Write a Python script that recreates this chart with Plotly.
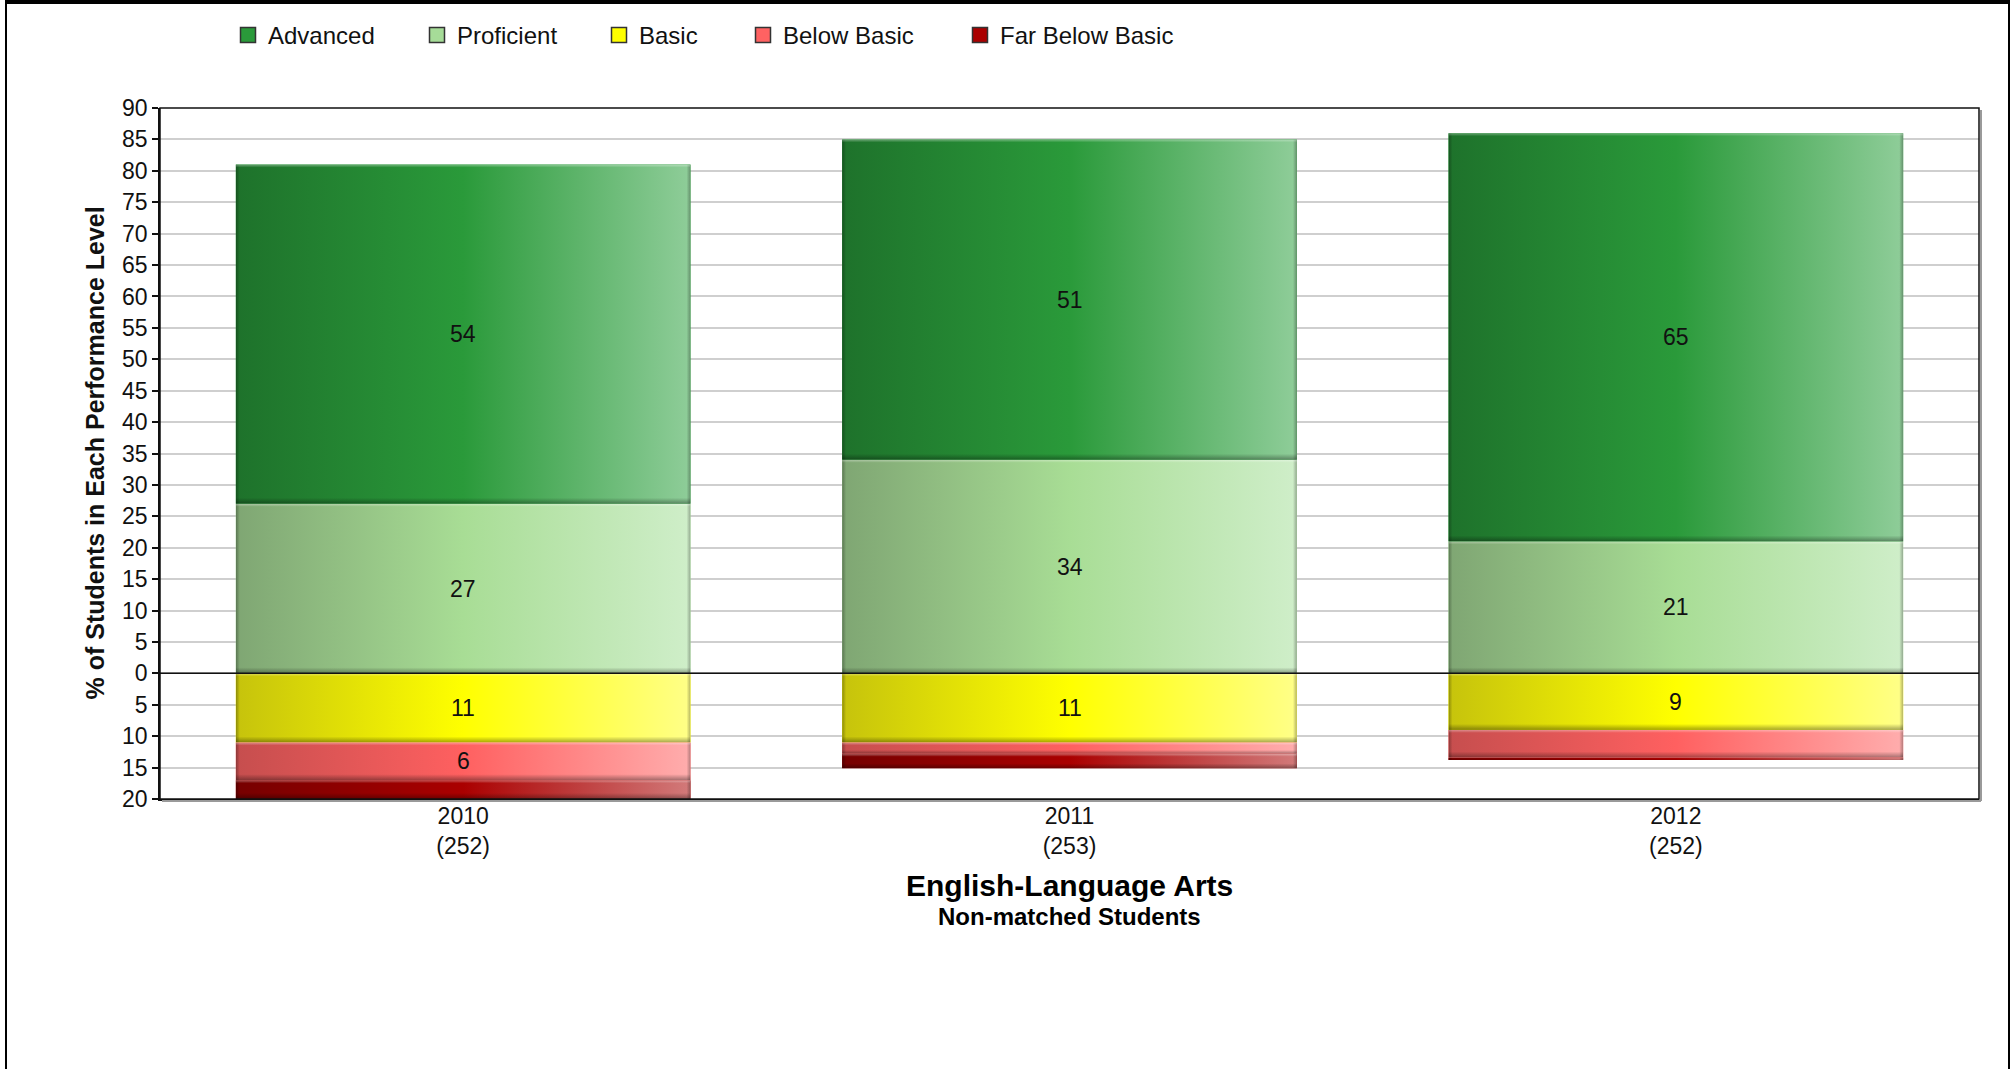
import base64
import plotly.graph_objects as go

# ---- data -------------------------------------------------------------
YEARS = ["2010", "2011", "2012"]
STUDENT_COUNTS = ["252", "253", "252"]
LEVELS = ["Advanced", "Proficient", "Basic", "Below Basic", "Far Below Basic"]
ADVANCED = [54, 51, 65]
PROFICIENT = [27, 34, 21]
BASIC = [11, 11, 9]
BELOW_BASIC = [6, 1.8, 4.4]
FAR_BELOW_BASIC = [3, 2.3, 0.4]
Y_TICK_VALUES = list(range(-20, 91, 5))
Y_TICK_TEXT = [str(abs(v)) for v in Y_TICK_VALUES]
TITLE = "English-Language Arts"
SUBTITLE = "Non-matched Students"
Y_TITLE = "% of Students in Each Performance Level"

# ---- styling ----------------------------------------------------------
FONT = "Liberation Sans, Arial, sans-serif"
W, H = 2015, 1069
M_L, M_R, M_T, M_B = 160, 36, 108, 270
Y_RANGE = [-20, 90]
BAR_W = 0.75

# left / middle / right colours of each level's horizontal shading
SHADES = {
    "Advanced": ("#1e722b", "#2a9a3a", "#8fcd99"),
    "Proficient": ("#7fa673", "#a8dd95", "#cfeec9"),
    "Basic": ("#c6c30c", "#ffff00", "#ffff88"),
    "Below Basic": ("#c64e4e", "#ff6060", "#ffadad"),
    "Far Below Basic": ("#760000", "#aa0000", "#d27a7a"),
}
LEGEND_COLORS = {
    "Advanced": "#2a9a3a",
    "Proficient": "#a6dc98",
    "Basic": "#ffff00",
    "Below Basic": "#ff6262",
    "Far Below Basic": "#aa0000",
}
# horizontal pixel position of each legend swatch centre
LEGEND_X = [248, 437, 619, 763, 980]
LEGEND_Y = 35

plot_w = W - M_L - M_R
plot_h = H - M_T - M_B
px_per_x = plot_w / 3.0
px_per_y = plot_h / (Y_RANGE[1] - Y_RANGE[0])


def xp(px):
    return (px - M_L) / plot_w


def yp(py):
    return (H - M_B - py) / plot_h


def shaded_bar_svg(w, h, shade):
    left, mid, right = shade
    side = min(4.0, w / 4)
    bot = min(6.0, h / 3)
    top = min(3.0, h / 4)
    svg = (
        f"<svg xmlns='http://www.w3.org/2000/svg' width='{w:.2f}' height='{h:.2f}' "
        f"viewBox='0 0 {w:.2f} {h:.2f}' preserveAspectRatio='none'>"
        "<defs>"
        "<linearGradient id='g' x1='0' y1='0' x2='1' y2='0'>"
        f"<stop offset='0' stop-color='{left}'/>"
        f"<stop offset='0.5' stop-color='{mid}'/>"
        f"<stop offset='1' stop-color='{right}'/></linearGradient>"
        "<linearGradient id='l' x1='0' y1='0' x2='1' y2='0'>"
        "<stop offset='0' stop-color='#000' stop-opacity='0.3'/>"
        "<stop offset='1' stop-color='#000' stop-opacity='0'/></linearGradient>"
        "<linearGradient id='r' x1='0' y1='0' x2='1' y2='0'>"
        "<stop offset='0' stop-color='#000' stop-opacity='0'/>"
        "<stop offset='1' stop-color='#000' stop-opacity='0.3'/></linearGradient>"
        "<linearGradient id='b' x1='0' y1='0' x2='0' y2='1'>"
        "<stop offset='0' stop-color='#000' stop-opacity='0'/>"
        "<stop offset='1' stop-color='#000' stop-opacity='0.35'/></linearGradient>"
        "<linearGradient id='t' x1='0' y1='0' x2='0' y2='1'>"
        "<stop offset='0' stop-color='#fff' stop-opacity='0.35'/>"
        "<stop offset='1' stop-color='#fff' stop-opacity='0'/></linearGradient>"
        "</defs>"
        f"<rect width='{w:.2f}' height='{h:.2f}' fill='url(#g)'/>"
        f"<rect width='{side:.2f}' height='{h:.2f}' fill='url(#l)'/>"
        f"<rect x='{w - side:.2f}' width='{side:.2f}' height='{h:.2f}' fill='url(#r)'/>"
        f"<rect y='{h - bot:.2f}' width='{w:.2f}' height='{bot:.2f}' fill='url(#b)'/>"
        f"<rect width='{w:.2f}' height='{top:.2f}' fill='url(#t)'/>"
        "</svg>"
    )
    return "data:image/svg+xml;base64," + base64.b64encode(svg.encode()).decode()


# stacking order: positives upward from zero, negatives downward from zero
series = [
    ("Proficient", PROFICIENT, 1),
    ("Advanced", ADVANCED, 1),
    ("Basic", BASIC, -1),
    ("Below Basic", BELOW_BASIC, -1),
    ("Far Below Basic", FAR_BELOW_BASIC, -1),
]

x_pos = list(range(len(YEARS)))
tick_text = [f"{y}<br>({n})" for y, n in zip(YEARS, STUDENT_COUNTS)]

fig = go.Figure()
images, annotations, shapes = [], [], []
pos_stack = [0.0] * len(YEARS)
neg_stack = [0.0] * len(YEARS)

for name, vals, sign in series:
    fig.add_trace(go.Bar(
        x=x_pos, y=[sign * v for v in vals], name=name, width=BAR_W,
        marker=dict(color=LEGEND_COLORS[name], line=dict(width=0)),
        showlegend=False, hoverinfo="name+y",
    ))
    for j, v in enumerate(vals):
        if sign > 0:
            lo, hi = pos_stack[j], pos_stack[j] + v
            pos_stack[j] = hi
        else:
            hi, lo = neg_stack[j], neg_stack[j] - v
            neg_stack[j] = lo
        images.append(dict(
            source=shaded_bar_svg(BAR_W * px_per_x, (hi - lo) * px_per_y, SHADES[name]),
            xref="x", yref="y", x=j - BAR_W / 2, y=hi,
            sizex=BAR_W, sizey=hi - lo, sizing="stretch",
            xanchor="left", yanchor="top", layer="above",
        ))
        if v >= 5:
            annotations.append(dict(
                x=j, y=(hi + lo) / 2, xref="x", yref="y", text=f"{v:g}",
                showarrow=False, font=dict(family=FONT, size=23, color="#111"),
            ))

# zero line across the plot, above the bars
shapes.append(dict(type="line", xref="paper", yref="y", x0=0, x1=1, y0=0, y1=0,
                   line=dict(color="#111", width=1.5), layer="above"))
# plot border with a soft shadow on the right and bottom
shapes.append(dict(type="line", xref="paper", yref="paper", x0=xp(W - M_R + 2), x1=xp(W - M_R + 2),
                   y0=yp(M_T + 2), y1=yp(H - M_B + 2), line=dict(color="#9a9a9a", width=2), layer="above"))
shapes.append(dict(type="line", xref="paper", yref="paper", x0=xp(M_L + 2), x1=xp(W - M_R + 2),
                   y0=yp(H - M_B + 2), y1=yp(H - M_B + 2), line=dict(color="#9a9a9a", width=2), layer="above"))
shapes.append(dict(type="rect", xref="paper", yref="paper", x0=0, x1=1, y0=0, y1=1,
                   line=dict(color="#111", width=1.5), layer="above"))
# outer frame
shapes.append(dict(type="line", xref="paper", yref="paper", x0=xp(5), x1=xp(2010), y0=yp(2), y1=yp(2),
                   line=dict(color="#000", width=4), layer="above"))
shapes.append(dict(type="line", xref="paper", yref="paper", x0=xp(6), x1=xp(6), y0=yp(0), y1=yp(H),
                   line=dict(color="#000", width=2), layer="above"))
shapes.append(dict(type="line", xref="paper", yref="paper", x0=xp(2009), x1=xp(2009), y0=yp(0), y1=yp(H),
                   line=dict(color="#000", width=2), layer="above"))

# legend: swatches and labels
sw = 15
for name, cx in zip(LEVELS, LEGEND_X):
    shapes.append(dict(type="rect", xref="paper", yref="paper",
                       x0=xp(cx - sw / 2), x1=xp(cx + sw / 2),
                       y0=yp(LEGEND_Y + sw / 2), y1=yp(LEGEND_Y - sw / 2),
                       fillcolor=LEGEND_COLORS[name], line=dict(color="#333", width=1.5)))
    annotations.append(dict(x=xp(cx + 18), y=yp(LEGEND_Y), xref="paper", yref="paper",
                            xanchor="left", yanchor="middle", text=name, showarrow=False,
                            font=dict(family=FONT, size=24, color="#111")))

# titles
annotations.append(dict(x=0.5, y=yp(885), xref="paper", yref="paper", text=f"<b>{TITLE}</b>",
                        showarrow=False, xanchor="center", yanchor="middle",
                        font=dict(family=FONT, size=30, color="#000")))
annotations.append(dict(x=0.5, y=yp(916), xref="paper", yref="paper", text=f"<b>{SUBTITLE}</b>",
                        showarrow=False, xanchor="center", yanchor="middle",
                        font=dict(family=FONT, size=24, color="#000")))
annotations.append(dict(x=xp(94), y=0.5, xref="paper", yref="paper", text=f"<b>{Y_TITLE}</b>",
                        showarrow=False, xanchor="center", yanchor="middle", textangle=-90,
                        font=dict(family=FONT, size=25, color="#111")))

fig.update_layout(
    width=W, height=H,
    margin=dict(l=M_L, r=M_R, t=M_T, b=M_B),
    paper_bgcolor="#ffffff", plot_bgcolor="#ffffff",
    barmode="relative",
    showlegend=False,
    images=images, annotations=annotations, shapes=shapes,
    font=dict(family=FONT, size=23, color="#111"),
    xaxis=dict(
        range=[-0.5, 2.5], tickvals=x_pos, ticktext=tick_text,
        showgrid=False, zeroline=False, showline=True, linecolor="#111", linewidth=1.5,
        ticks="", ticklabelstandoff=-4,
        tickfont=dict(family=FONT, size=23, color="#111"),
    ),
    yaxis=dict(
        range=Y_RANGE, tickvals=Y_TICK_VALUES, ticktext=Y_TICK_TEXT,
        showgrid=True, gridcolor="#cfcfcf", gridwidth=1.5, zeroline=False,
        showline=True, linecolor="#111", linewidth=1.5,
        ticks="outside", ticklen=6, tickcolor="#111", tickwidth=1.5,
        tickfont=dict(family=FONT, size=23, color="#111"),
    ),
)

fig.write_html("out.html")
